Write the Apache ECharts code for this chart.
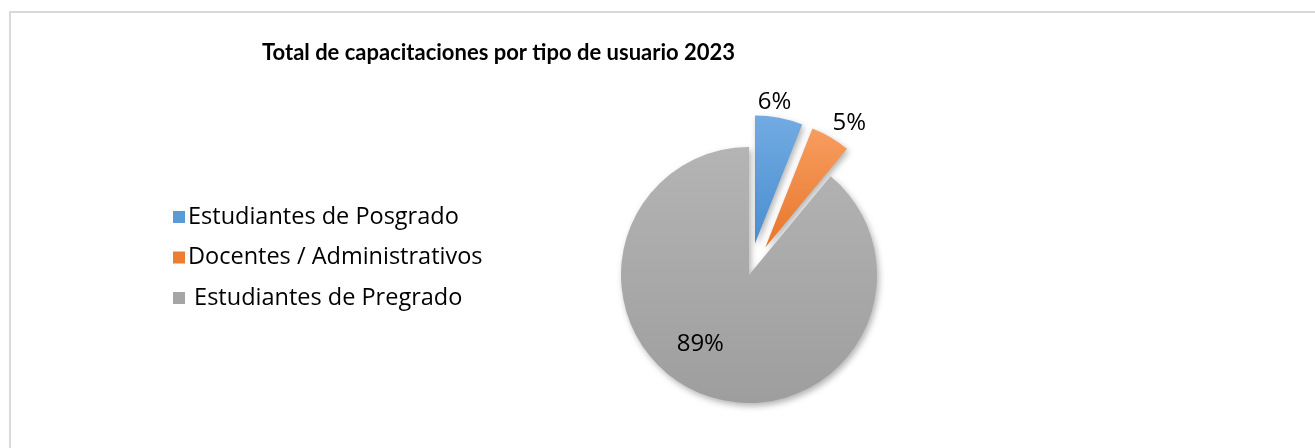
<!DOCTYPE html>
<html>
<head>
<meta charset="utf-8">
<script src="https://cdn.jsdelivr.net/npm/echarts@6/dist/echarts.min.js"></script>
<style>
  html, body { margin: 0; padding: 0; background: #fff; }
  #wrap { position: relative; width: 1315px; height: 448px; overflow: hidden; }
  #frame { position: absolute; left: 9px; top: 11px; width: 1400px; height: 500px;
           border-left: 2px solid #d9d9d9; border-top: 2px solid #d9d9d9; }
  #main { position: absolute; left: 0; top: 0; width: 1315px; height: 448px; }
</style>
</head>
<body>
<div id="wrap">
  <div id="frame"></div>
  <div id="main"></div>
</div>
<script>
// datos
const categorias = ['Estudiantes de Posgrado', 'Docentes / Administrativos', 'Estudiantes de Pregrado'];
const valores = [6, 5, 89];
const etiquetas = ['6%', '5%', '89%'];
const separados = [true, true, false];

const colores = [
  ['#72abe2', '#4a8ed0'],
  ['#f79d60', '#e9762b'],
  ['#b4b4b4', '#9e9e9e']
];
const coloresLeyenda = ['#5b9bd5', '#ed7d31', '#a5a5a5'];

// desplazamiento de cada etiqueta respecto a su posicion interior
const despl = [[7, -76], [50, -67], [-26, 6]];

let chart = echarts.init(document.getElementById('main'));

let datos = [];
for (let i = 0; i < categorias.length; i++) {
  datos.push({
    name: categorias[i],
    value: valores[i],
    selected: separados[i],
    itemStyle: {
      color: new echarts.graphic.LinearGradient(0, 0, 0, 1, [
        { offset: 0, color: colores[i][0] },
        { offset: 1, color: colores[i][1] }
      ])
    }
  });
}

let option = {
  animation: false,
  title: {
    text: 'Total de capacitaciones por tipo de usuario 2023',
    left: 257,
    top: 37,
    textStyle: {
      fontFamily: 'Lato',
      fontWeight: 'bold',
      fontSize: 22,
      color: '#000'
    }
  },
  legend: {
    orient: 'vertical',
    left: 168,
    top: 200,
    itemWidth: 12,
    itemHeight: 12,
    itemGap: 16.5,
    icon: 'rect',
    selectedMode: false,
    data: categorias.map((c, i) => ({ name: c, itemStyle: { color: coloresLeyenda[i] } })),
    formatter: function (name) {
      return name === 'Estudiantes de Pregrado' ? ' ' + name : name;
    },
    textStyle: {
      fontFamily: 'Open Sans',
      fontSize: 23.5,
      lineHeight: 22,
      color: '#000',
      padding: [0, 0, 0, -2]
    }
  },
  series: [{
    type: 'pie',
    center: [749, 275],
    radius: 128,
    startAngle: 90,
    selectedMode: 'multiple',
    selectedOffset: 32,
    data: datos,
    itemStyle: {
      shadowBlur: 6,
      shadowColor: 'rgba(0,0,0,0.3)',
      shadowOffsetX: 2,
      shadowOffsetY: 3
    },
    emphasis: { disabled: true },
    label: {
      show: true,
      position: 'inside',
      formatter: function (p) { return etiquetas[p.dataIndex]; },
      fontFamily: 'Open Sans',
      fontSize: 24,
      color: '#000'
    },
    labelLine: { show: false },
    labelLayout: function (p) {
      return { dx: despl[p.dataIndex][0], dy: despl[p.dataIndex][1] };
    }
  }]
};

chart.setOption(option);
</script>
</body>
</html>
